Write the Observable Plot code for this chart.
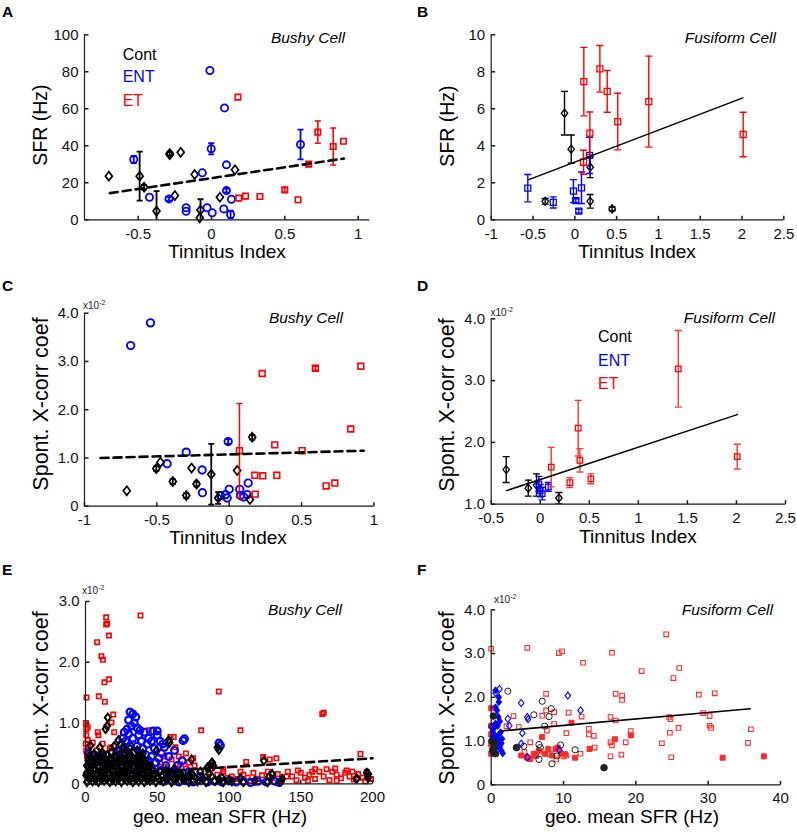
<!DOCTYPE html>
<html><head><meta charset="utf-8">
<script src="https://cdn.jsdelivr.net/npm/d3@7"></script>
<script src="https://cdn.jsdelivr.net/npm/@observablehq/plot@0.6"></script>
<style>
body{margin:0;background:#fff;}
#wrap{position:relative;width:797px;height:832px;overflow:hidden;background:#fff;}
</style></head><body><div id="wrap"></div>
<script>
// ---------------- DATA ----------------
// Panel A (Bushy, SFR vs Tinnitus Index)
const aContX = [-0.70,-0.49,-0.46,-0.375,-0.285,-0.285,-0.21,-0.25,-0.115,-0.075,-0.08,0.057,0.16];
const aContY = [23.6,23.6,17.6,4.7,35.8,35.2,36.5,13.1,24.5,5.3,1.1,12.2,27];
const aContE = [0,13.2,1.2,10.8,1,0,0,0,0,5.8,0,0,0];
const aEntX = [-0.53,-0.423,-0.29,-0.173,-0.173,-0.063,-0.011,-0.002,-0.03,0.005,0.089,0.102,0.102,0.084,0.136,0.13,0.607];
const aEntY = [32.6,12.2,11.3,6.5,4.6,25.4,80.7,38.4,6.5,3.8,60.5,29.7,15.8,5.9,11.1,2.9,40.7];
const aEntE = [2,0,1,0,0,0,0,3,0,0,0,0,1,0,0,2,8];
const aEtX = [0.18,0.186,0.232,0.33,0.5,0.59,0.663,0.725,0.83,0.9];
const aEtY = [66.3,11.7,12.8,12.6,16.2,10.8,30.1,47.4,39.6,42.5];
const aEtE = [0,0,0,0,1.2,0,1.2,6,10,0];
const aFitX = [-0.693,0.902], aFitY = [14.4,33.1];

// Panel B (Fusiform, SFR vs Tinnitus Index)
const bContX = [-0.123,-0.043,0.184,0.184,-0.354,0.447];
const bContY = [5.76,3.82,2.84,1.0,1.0,0.59];
const bContE = [1.18,0.76,0.56,0.37,0.15,0.1];
const bEntX = [-0.562,-0.258,-0.016,0.012,0.048,0.08,0.176];
const bEntY = [1.71,0.94,1.55,1.04,0.47,1.73,3.48];
const bEntE = [0.74,0.3,0.62,0.1,0.1,0.85,0.98];
const bEtX = [0.104,0.108,0.18,0.3,0.388,0.514,0.885,2.014];
const bEtY = [3.11,7.47,4.68,8.16,6.94,5.31,6.39,4.61];
const bEtE = [0.65,1.85,1.15,1.26,1.13,1.53,2.46,1.2];
const bFitX = [-0.557,2.01], bFitY = [2.16,6.59];

// Panel C (Bushy, X-corr x1e-2 vs Tinnitus Index)
const cEntX = [-0.681,-0.544,-0.429,-0.297,-0.187,-0.185,-0.007,0.0,-0.025,-0.014,0.073,0.078,0.1,0.131,0.124,-0.06];
const cEntY = [3.33,3.8,0.88,1.12,0.75,0.28,1.34,0.35,0.24,0.17,0.35,0.22,0.19,0.48,0.24,0.22];
const cEntE = [0,0,0,0,0,0,0.05,0,0,0,0,0,0,0,0,0];
const cContX = [-0.708,-0.504,-0.475,-0.39,-0.297,-0.26,-0.226,-0.124,-0.076,0.055,0.159,0.143];
const cContY = [0.32,0.78,0.91,0.51,0.22,0.79,0.46,0.66,0.17,0.74,1.43,0.14];
const cContE = [0,0.05,0,0.05,0.05,0,0.05,0.63,0.12,0,0.05,0];
const cEtX = [0.071,0.228,0.177,0.232,0.18,0.315,0.329,0.504,0.596,0.67,0.73,0.84,0.91];
const cEtY = [1.15,2.75,0.64,0.63,0.25,1.27,0.64,1.15,2.86,0.42,0.48,1.6,2.9];
const cEtE = [0.98,0,0,0,0,0,0,0,0.04,0,0,0,0];
const cFitX = [-0.889,0.93], cFitY = [1.0,1.15];

// Panel D (Fusiform, X-corr x1e-2 vs Tinnitus Index)
const dContX = [-0.347,-0.122,-0.038,0.19];
const dContY = [1.56,1.26,1.31,1.10];
const dContE = [0.21,0.13,0.18,0.09];
const dEntX = [-0.014,0.0,0.02,0.082];
const dEntY = [1.33,1.22,1.17,1.28];
const dEntE = [0.12,0.1,0.1,0.07];
const dEtX = [0.112,0.302,0.387,0.404,0.516,1.407,2.008];
const dEtY = [1.6,1.35,2.23,1.71,1.41,3.19,1.77];
const dEtE = [0.32,0.08,0.45,0.19,0.08,0.62,0.2];
const dFitX = [-0.344,2.008], dFitY = [1.22,2.45];

// Panel E (Bushy, X-corr x1e-2 vs geo. mean SFR) [x, y]
const eEt = [[14.4,2.74],[15.1,2.64],[14.4,2.62],[38.3,2.77],[16.3,2.44],[8.1,2.33],[11.1,2.1],[12.1,2.04],[16.3,1.72],[13.2,1.67],[0.7,1.42],[9.3,1.44],[13.5,1.35],[92.9,1.52],[19.3,1.14],[0.3,1.0],[1.6,0.93],[8.6,0.85],[18.1,1.01],[80.6,0.88],[44.1,0.88],[59.2,0.77],[62.7,0.6],[70,0.5],[0.2,0.66],[2,0.6],[9,0.8],[12,0.66],[17,0.58],[108,0.88],[165,1.15],[166,1.17],[191.6,0.49],[112,0.36],[123.8,0.44],[128.4,0.4],[133,0.42],[160,0.24],[96,0.24],[61.5,0.77],
[0.5,0.9],[0.5,0.8],[1.5,0.72],[0.5,0.55],[2,0.5],[1,0.45],[3,0.35],[2,0.25],[8,0.55],[12,0.5],[18,0.6],[22,0.55],[27,0.62],[15,0.48],[5,0.68],[20,0.85],[23,0.5],
[40,0.4],[43,0.3],[47,0.22],[52,0.35],[56,0.28],[60,0.4],[63,0.2],[66,0.32],[70,0.25],[73,0.15],[76,0.3],[80,0.2],[84,0.12],[88,0.25],[92,0.15],[96,0.2],[99,0.1],[55,0.45],[65,0.45],[75,0.42],[72,0.35],[58,0.15],
[102,0.12],[106,0.08],[110,0.15],[113,0.1],[117,0.18],[120,0.08],[123,0.14],[127,0.2],[130,0.1],[134,0.16],[137,0.07],[141,0.2],[144,0.12],[147,0.06],[150,0.18],[153,0.1],[156,0.15],[160,0.08],[163,0.2],[166,0.12],[170,0.06],[172,0.2],[175,0.15],[178,0.09],[181,0.18],[184,0.12],[187,0.07],[190,0.16],[193,0.1],[196,0.2],[199,0.08],[115,0.05],[135,0.04],[155,0.05],[175,0.05],[195,0.04],[108,0.2],[148,0.22],[168,0.24],[182,0.22],[140,0.12],[158,0.2],[174,0.25],[186,0.2]];
const eEnt = [[31,1.18],[33,1.15],[35,1.1],[30,1.05],[34,1.0],[32,0.95],[36,0.92],[29,0.9],[38,0.88],[41,0.85],[47,0.87],[50,0.8],[44,0.75],[37,0.8],[30,0.82],[27,0.85],[26,0.75],[28,0.7],[33,0.75],[39,0.7],[43,0.65],[46,0.7],[52,0.7],[55,0.6],[25,0.65],[31,0.62],[36,0.62],[40,0.58],[48,0.58],[53,0.5],[24,0.55],[28,0.5],[34,0.52],[38,0.5],[42,0.48],[46,0.45],[51,0.42],[22,0.45],[27,0.42],[32,0.4],[37,0.38],[44,0.38],[49,0.35],[56,0.3],[20,0.35],[25,0.32],[30,0.3],[35,0.28],[40,0.28],[46,0.25],[52,0.22],[60,0.2],[18,0.4],[12,0.45],[6,0.45],[2,0.5],[9,0.38],[15,0.3],
[54,0.66],[50,0.87],[68,0.71],[69,0.74],[67.4,0.38],[94,0.63],[93,0.67],[62,0.55],[58,0.45],[64,0.3],[72,0.2],[66,0.15],[80,0.12],
[55,0.04],[60,0.06],[65,0.03],[70,0.05],[75,0.03],[80,0.05],[85,0.03],[90,0.04],[95,0.03],[100,0.05],[105,0.03],[110,0.04],[115,0.02],[120,0.04],[126,0.03],[132,0.04],[135,0.02]];
const eCont = [[1,0.03],[5,0.04],[9,0.03],[13,0.05],[17,0.03],[21,0.04],[25,0.03],[29,0.05],[33,0.03],[37,0.04],[41,0.03],[45,0.05],[49,0.03],[54,0.04],[60,0.03],[66,0.05],[72,0.03],[78,0.04],[84,0.03],[90,0.05],[96,0.03],[102,0.04],[110,0.03],[118,0.05],[127,0.03],[136,0.04],
[3,0.07],[7,0.06],[11,0.07],[15,0.08],[19,0.06],[23,0.07],[27,0.08],[31,0.06],[35,0.07],[39,0.08],[43,0.06],[47,0.07],[52,0.06],[56,0.08],[62,0.06],[68,0.07],[75,0.06],[82,0.08],[93,0.07],[100,0.06],
[2,0.11],[6,0.09],[10,0.12],[14,0.1],[18,0.11],[22,0.09],[26,0.12],[30,0.1],[34,0.11],[38,0.09],[42,0.12],[46,0.1],[50,0.11],[57,0.09],[63,0.12],[70,0.1],[77,0.09],[88,0.12],[95,0.1],[108,0.09],[128,0.12],[189,0.09],[197,0.1],
[0.5,0.14],[4,0.15],[8,0.13],[12,0.14],[16,0.15],[20,0.13],[24,0.14],[28,0.15],[32,0.13],[36,0.14],[40,0.15],[44,0.13],[48,0.14],[53,0.13],[60,0.15],[67,0.13],[72,0.14],
[1,0.18],[4,0.2],[8,0.17],[12,0.19],[16,0.18],[20,0.2],[24,0.17],[28,0.19],[32,0.18],[36,0.2],[40,0.17],[44,0.19],[48,0.16],[58,0.18],[65,0.15],[74,0.17],[80,0.2],[86,0.16],[130,0.16],[196,0.18],
[3,0.22],[7,0.23],[11,0.21],[15,0.22],[19,0.23],[23,0.21],[27,0.22],[31,0.23],[35,0.21],[39,0.22],[43,0.23],[47,0.21],[52,0.2],[56,0.22],
[2,0.27],[6,0.25],[10,0.28],[14,0.26],[18,0.27],[22,0.25],[26,0.28],[30,0.26],[34,0.27],[38,0.25],[42,0.28],[46,0.24],[62,0.25],[85,0.27],
[1,0.3],[5,0.31],[9,0.29],[13,0.3],[17,0.31],[21,0.29],[25,0.3],[29,0.31],[33,0.29],[37,0.3],[41,0.31],[45,0.29],
[3,0.35],[7,0.33],[11,0.36],[15,0.34],[19,0.35],[23,0.33],[27,0.36],[31,0.34],[35,0.35],[39,0.33],[43,0.32],[88,0.34],
[2,0.38],[6,0.39],[10,0.37],[14,0.38],[18,0.39],[22,0.37],[26,0.38],[30,0.39],[34,0.37],[38,0.38],[42,0.36],
[4,0.43],[9,0.41],[13,0.44],[17,0.42],[21,0.43],[25,0.41],[29,0.44],[33,0.42],[37,0.45],[41,0.4],
[3,0.46],[8,0.45],[15,0.47],[20,0.46],[27,0.47],[32,0.46],[39,0.45],
[6,0.49],[12,0.5],[18,0.52],[24,0.48],[30,0.51],[36,0.55],[40,0.5],
[3.5,0.63],[23,0.72],[15.5,1.09],[14,0.9],[15,0.95],[49.5,0.55],[58.5,0.68],[58,0.72],[73.9,0.4],[88.3,0.35],[92.9,0.56],[92,0.6],[124.3,0.38],[130,0.16],[137,0.08],[188.8,0.08],[197,0.16],[26,0.6],[10,0.6],[20,0.62],[31,0.58],[85,0.25],[89,0.3]];
const eFitX = [0,200], eFitY = [0.13,0.42];

// Panel F (Fusiform, X-corr x1e-2 vs geo. mean SFR) [x, y]
const fEtOpen = [[0,3.11],[5.0,3.13],[9.35,3.01],[9.8,3.05],[12.7,2.79],[16.7,3.02],[24.2,3.44],[20.8,2.6],[26,2.67],[25.2,2.44],[7.6,2.08],[17.2,2.08],[18.1,2.04],[18.1,1.94],[28.7,2.06],[30.9,2.09],[3.08,1.57],[3.8,1.32],[7.05,1.58],[7.6,1.7],[8.7,1.66],[10.7,1.65],[12.5,1.56],[7.7,1.24],[8.7,1.39],[10.4,1.18],[5.4,0.97],[13.5,1.28],[13.5,1.15],[14.2,1.12],[14.3,0.85],[12.35,0.71],[16.5,1.55],[17.2,1.47],[16.5,0.97],[16.7,0.9],[16.5,0.65],[18.0,0.69],[18.6,0.97],[19.3,1.23],[10.4,0.67],[23.6,0.95],[24.6,1.55],[24.8,1.5],[24.7,1.19],[25.9,1.3],[24.9,0.63],[29.3,1.64],[30.2,1.57],[30.2,1.35],[30.4,1.3],[35.9,1.27],[35.5,0.96],[2.1,1.34],[1.3,0.91],[8.1,0.7],[10.0,0.65],[5.0,0.63],[4.6,0.75],[9.0,0.58]];
const fEtFill = [[0,1.75],[0,1.35],[0,1.15],[0,0.92],[0,0.71],[0.3,0.8],[4.15,0.67],[5.4,0.59],[5.9,0.71],[6.6,0.78],[7.05,1.09],[7.4,0.71],[7.9,0.82],[8.4,0.67],[8.9,0.82],[9.6,0.72],[11.1,1.42],[11.6,0.62],[13.6,0.82],[17.1,1.04],[19.3,1.13],[32,0.62],[37.7,0.65],[5,0.62],[6.2,0.66],[9.2,0.85],[10.2,0.7]];
const fEntOpen = [[1.15,2.19],[0.6,2.1],[2.3,1.51],[2.5,1.35],[4.15,1.87],[5.0,1.55],[5.1,1.5],[4.3,1.18],[4.15,0.94],[10.6,2.04],[12.35,1.7],[0,1.33],[5,0.63],[9.4,0.8],[0.3,1.0]];
const fEntFill = [[0.6,2.16],[1.05,2.0],[1.05,1.89],[0.6,1.77],[0.8,1.7],[1.0,1.55],[1.2,1.45],[0.6,1.4],[0.4,1.3],[0.2,1.22],[0.4,1.15],[0.9,1.12],[0.6,1.05],[1.2,1.0],[1.4,0.95],[0.5,0.95],[0.8,0.88],[1.1,0.85],[1.4,0.78],[1.6,0.72],[0.4,0.8],[0.2,1.1],[1.3,1.2],[0.9,1.35],[0.3,0.72],[1.5,1.05]];
const fContOpen = [[2.3,2.14],[7.05,1.91],[8.3,1.74],[8.0,1.56],[5.9,1.6],[7.4,1.34],[6.6,0.92],[6.6,0.58],[8.4,0.48],[9.1,0.66],[9.6,0.91],[11.6,0.8],[4.5,0.88],[6.8,0.85]];
const fContFill = [[0.3,1.57],[0.6,0.71],[0.2,0.79],[3.5,0.85],[15.6,0.39],[0.5,0.93],[0.1,1.0]];
const fFitX = [1.3,35.8], fFitY = [1.23,1.74];

// Tick values & labels
const tiA = {xt:[-0.5,0,0.5,1], xl:["-0.5","0","0.5","1"], yt:[0,20,40,60,80,100], yl:["0","20","40","60","80","100"]};
const tiB = {xt:[-1,-0.5,0,0.5,1,1.5,2,2.5], xl:["-1","-0.5","0","0.5","1","1.5","2","2.5"], yt:[0,2,4,6,8,10], yl:["0","2","4","6","8","10"]};
const tiC = {xt:[-1,-0.5,0,0.5,1], xl:["-1","-0.5","0","0.5","1"], yt:[0,1,2,3,4], yl:["0","1.0","2.0","3.0","4.0"]};
const tiD = {xt:[-0.5,0,0.5,1,1.5,2,2.5], xl:["-0.5","0","0.5","1","1.5","2","2.5"], yt:[1,2,3,4], yl:["1.0","2.0","3.0","4.0"]};
const tiE = {xt:[0,50,100,150,200], xl:["0","50","100","150","200"], yt:[0,1,2,3], yl:["0","1.0","2.0","3.0"]};
const tiF = {xt:[0,10,20,30,40], xl:["0","10","20","30","40"], yt:[0,1,2,3,4], yl:["0","1.0","2.0","3.0","4.0"]};

// ---------------- DRAWING ----------------
const wrap = document.getElementById("wrap");
const FONT = "Arial, 'Liberation Sans', Helvetica, sans-serif";
const AX = "#1a1a1a", BLUE = "#0000ff", RED = "#ff0000", BLK = "#000000";

const sq = s => ({draw(c){c.moveTo(-s/2,-s/2);c.lineTo(s/2,-s/2);c.lineTo(s/2,s/2);c.lineTo(-s/2,s/2);c.closePath();}});
const dia = (w,h) => ({draw(c){c.moveTo(0,-h/2);c.lineTo(w/2,0);c.lineTo(0,h/2);c.lineTo(-w/2,0);c.closePath();}});
const cap = w => ({draw(c){c.moveTo(-w/2,0);c.lineTo(w/2,0);}});
const tickUp = {draw(c){c.moveTo(0,0);c.lineTo(0,-4);}};
const tickRight = {draw(c){c.moveTo(0,0);c.lineTo(4,0);}};

const tbl = (xs, ys, es) => xs.map((x,i) => ({x, y: ys[i], e: es ? es[i] : 0}));
const prs = p => p.map(([x,y]) => ({x, y, e: 0}));

function series(rows, o) {
  const {symbol, r = 4, stroke, fill = "none", sw = 1.5, capW = 6, esw = sw, estroke = stroke} = o;
  const err = rows.filter(d => d.e > 0);
  const m = [];
  if (err.length) {
    m.push(Plot.ruleX(err, {x: "x", y1: d => d.y - d.e, y2: d => d.y + d.e, stroke: estroke, strokeWidth: esw, clip: true}));
    m.push(Plot.dot(err, {x: "x", y: d => d.y + d.e, symbol: cap(capW), stroke: estroke, strokeWidth: esw, clip: true}));
    m.push(Plot.dot(err, {x: "x", y: d => d.y - d.e, symbol: cap(capW), stroke: estroke, strokeWidth: esw, clip: true}));
  }
  m.push(Plot.dot(rows, {x: "x", y: "y", symbol, r, stroke, fill, strokeWidth: sw}));
  return m;
}
function fit(xs, ys, dashed, sw) {
  return Plot.line(tbl(xs, ys), {x: "x", y: "y", stroke: BLK, strokeWidth: sw, strokeDasharray: dashed ? "8,5" : null});
}

function panel(cfg) {
  const {ox, oy, w, h, l, r, t, b, xd, yd, ti, marks, tdy = 19} = cfg;
  const p = Plot.plot({
    width: w, height: h,
    marginLeft: l - ox, marginRight: ox + w - r, marginTop: t - oy, marginBottom: oy + h - b,
    x: {domain: xd, axis: null},
    y: {domain: yd, axis: null},
    style: {background: "transparent", fontFamily: FONT, overflow: "visible", color: "#000"},
    marks: [
      ...marks,
      Plot.ruleX([xd[0]], {stroke: AX, strokeWidth: 1.2}),
      Plot.ruleY([yd[0]], {stroke: AX, strokeWidth: 1.2}),
      Plot.dot(ti.xt, {x: d => d, frameAnchor: "bottom", symbol: tickUp, stroke: AX}),
      Plot.dot(ti.yt, {y: d => d, frameAnchor: "left", symbol: tickRight, stroke: AX}),
      Plot.text(ti.xt, {x: d => d, frameAnchor: "bottom", text: (d, i) => ti.xl[i], dy: tdy, lineAnchor: "bottom", fontSize: 15, fill: "#111"}),
      Plot.text(ti.yt, {y: d => d, frameAnchor: "left", text: (d, i) => ti.yl[i], dx: -6, textAnchor: "end", lineAnchor: "middle", fontSize: 15, fill: "#111"})
    ]
  });
  p.style.position = "absolute";
  p.style.left = ox + "px";
  p.style.top = oy + "px";
  p.style.maxWidth = "none";
  wrap.appendChild(p);
}

// A
panel({ox:0, oy:0, w:398, h:265, l:84, r:369.4, t:34.3, b:219.3, xd:[-0.866,1.08], yd:[0,100], ti:tiA, marks:[
  ...series(tbl(aContX,aContY,aContE), {symbol: dia(7,9), stroke: BLK, sw: 1.7, capW: 6, esw: 1.8}),
  ...series(tbl(aEntX,aEntY,aEntE), {symbol: "circle", r: 3.6, stroke: BLUE, sw: 1.8, capW: 6}),
  ...series(tbl(aEtX,aEtY,aEtE), {symbol: sq(5.5), stroke: RED, sw: 1.6, capW: 6}),
  fit(aFitX, aFitY, true, 2.6)
]});
// B
panel({ox:398, oy:0, w:399, h:265, l:490.7, r:783.3, t:34.3, b:219.3, xd:[-1,2.5], yd:[0,10], ti:tiB, marks:[
  ...series(tbl(bContX,bContY,bContE), {symbol: dia(6.5,8), stroke: BLK, sw: 1.3, capW: 7, esw: 1.4}),
  ...series(tbl(bEntX,bEntY,bEntE), {symbol: sq(6), stroke: BLUE, sw: 1.3, capW: 7, esw: 1.4}),
  ...series(tbl(bEtX,bEtY,bEtE), {symbol: sq(6), stroke: RED, sw: 1.3, capW: 7, esw: 1.4}),
  fit(bFitX, bFitY, false, 1.5)
]});
// C
panel({ox:0, oy:265, w:398, h:265, l:84, r:373.4, t:312.7, b:505.7, xd:[-1,1], yd:[0,4], ti:tiC, marks:[
  ...series(tbl(cEntX,cEntY,cEntE), {symbol: "circle", r: 3.7, stroke: BLUE, sw: 1.9, capW: 5}),
  ...series(tbl(cContX,cContY,cContE), {symbol: dia(7,9), stroke: BLK, sw: 1.7, capW: 6, esw: 1.8}),
  ...series(tbl(cEtX,cEtY,cEtE), {symbol: sq(5.8), stroke: RED, sw: 1.6, capW: 6, esw: 1.5}),
  fit(cFitX, cFitY, true, 2.6)
]});
// D
panel({ox:398, oy:265, w:399, h:265, l:490.7, r:785, t:318.3, b:503.7, xd:[-0.5,2.5], yd:[1,4], ti:tiD, marks:[
  ...series(tbl(dContX,dContY,dContE), {symbol: dia(6.5,8), stroke: BLK, sw: 1.3, capW: 7, esw: 1.4}),
  ...series(tbl(dEntX,dEntY,dEntE), {symbol: sq(5.5), stroke: BLUE, sw: 1.3, capW: 7, esw: 1.4}),
  ...series(tbl(dEtX,dEtY,dEtE), {symbol: sq(5.5), stroke: RED, sw: 1.3, capW: 7, esw: 1.4, estroke: "#ff3333"}),
  fit(dFitX, dFitY, false, 1.5)
]});
// E
panel({ox:0, oy:530, w:398, h:302, l:85, r:372, t:601, b:783.3, xd:[0,200], yd:[0,3], ti:tiE, tdy:18.5, marks:[
  ...series(prs(eEt), {symbol: sq(4.4), stroke: RED, sw: 1.6}),
  ...series(prs(eEnt), {symbol: "circle", r: 3.4, stroke: BLUE, sw: 2.2}),
  ...series(prs(eCont), {symbol: dia(6,8), stroke: BLK, sw: 2}),
  fit(eFitX, eFitY, true, 2.6)
]});
// F
panel({ox:398, oy:530, w:399, h:302, l:490.7, r:780, t:609.3, b:784.3, xd:[0,40], yd:[0,4], ti:tiF, tdy:18, marks:[
  ...series(prs(fEtOpen), {symbol: sq(4.6), stroke: "#ff2a2a", sw: 1.1}),
  ...series(prs(fEtFill), {symbol: sq(5), stroke: "#ff2a2a", fill: "#ff2a2a", sw: 1}),
  ...series(prs(fContOpen), {symbol: "circle", r: 3.1, stroke: "#222", sw: 1}),
  ...series(prs(fEntOpen), {symbol: dia(5.5,7), stroke: BLUE, sw: 1.1}),
  ...series(prs(fEntFill), {symbol: dia(5.5,7), stroke: BLUE, fill: BLUE, sw: 1}),
  ...series(prs(fContFill), {symbol: "circle", r: 3.3, stroke: "#222", fill: "#222", sw: 1}),
  fit(fFitX, fFitY, false, 1.6)
]});

// ---------------- TEXT OVERLAY ----------------
const NS = "http://www.w3.org/2000/svg";
const ov = document.createElementNS(NS, "svg");
ov.setAttribute("width", 797); ov.setAttribute("height", 832);
ov.style.position = "absolute"; ov.style.left = "0"; ov.style.top = "0"; ov.style.pointerEvents = "none";
ov.style.fontFamily = FONT;
wrap.appendChild(ov);
function txt(s, x, y, o = {}) {
  const t = document.createElementNS(NS, "text");
  t.setAttribute("x", 0); t.setAttribute("y", 0);
  t.setAttribute("transform", `translate(${x},${y})` + (o.rot ? ` rotate(${o.rot})` : ""));
  t.setAttribute("font-size", o.size || 15);
  t.setAttribute("text-anchor", o.anchor || "start");
  t.setAttribute("fill", o.fill || "#000");
  if (o.weight) t.setAttribute("font-weight", o.weight);
  if (o.italic) t.setAttribute("font-style", "italic");
  t.textContent = s;
  ov.appendChild(t);
  return t;
}
function sci(x, y) {
  const t = txt("x10", x, y, {size: 10, fill: "#222"});
  const sp = document.createElementNS(NS, "tspan");
  sp.setAttribute("dy", -4); sp.setAttribute("font-size", 7); sp.textContent = "-2";
  t.appendChild(sp);
}
const letters = ["A","B","C","D","E","F"];
const letterPos = [[2,17],[417,17],[2,291],[417,291],[2,575],[417,575]];
letters.forEach((s, i) => txt(s, letterPos[i][0], letterPos[i][1], {size: 15.5, weight: "bold"}));

const xTitle = "Tinnitus Index", sfrTitle = "geo. mean SFR (Hz)", yTitle1 = "SFR (Hz)", yTitle2 = "Spont. X-corr coef";
txt(xTitle, 227, 258, {size: 19, anchor: "middle"});
txt(xTitle, 637, 258, {size: 19, anchor: "middle"});
txt(xTitle, 228, 544, {size: 19, anchor: "middle"});
txt(xTitle, 638, 543, {size: 19, anchor: "middle"});
txt(sfrTitle, 220, 823, {size: 19, anchor: "middle"});
txt(sfrTitle, 632, 823, {size: 19, anchor: "middle"});
txt(yTitle1, 47, 125, {size: 19.5, anchor: "middle", rot: -90});
txt(yTitle1, 454, 126, {size: 19.5, anchor: "middle", rot: -90});
txt(yTitle2, 48, 404, {size: 21.5, anchor: "middle", rot: -90});
txt(yTitle2, 454, 405, {size: 21.5, anchor: "middle", rot: -90});
txt(yTitle2, 48, 698, {size: 21.5, anchor: "middle", rot: -90});
txt(yTitle2, 454, 698, {size: 21.5, anchor: "middle", rot: -90});

const bushy = "Bushy Cell", fusi = "Fusiform Cell";
txt(bushy, 345, 43, {size: 15.5, italic: true, anchor: "end"});
txt(fusi, 776, 43, {size: 15.5, italic: true, anchor: "end"});
txt(bushy, 343, 323, {size: 15.5, italic: true, anchor: "end"});
txt(fusi, 775, 323, {size: 15.5, italic: true, anchor: "end"});
txt(bushy, 342, 615, {size: 15.5, italic: true, anchor: "end"});
txt(fusi, 773, 615, {size: 15.5, italic: true, anchor: "end"});

const groups = ["Cont","ENT","ET"], groupColors = [BLK, BLUE, RED];
[59.5, 82.3, 105.5].forEach((y, i) => txt(groups[i], 122.7, y, {size: 16, fill: groupColors[i]}));
[342, 365.5, 389].forEach((y, i) => txt(groups[i], 598, y, {size: 16, fill: groupColors[i]}));

sci(83, 309); sci(490.5, 315.5); sci(82, 594); sci(494, 602.5);
</script></body></html>
